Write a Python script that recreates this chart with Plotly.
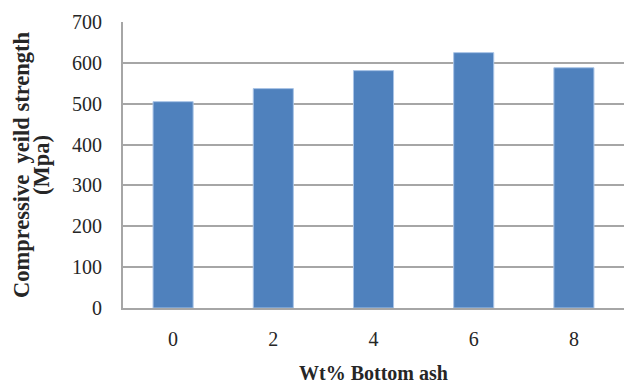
import plotly.graph_objects as go

categories = ["0", "2", "4", "6", "8"]
strength = [505, 537, 581, 625, 588]
y_ticks = [0, 100, 200, 300, 400, 500, 600, 700]

L, R, T, B = 123, 2, 22, 79
W, H = 626, 387
pw = W - L - R
ph = H - T - B

fig = go.Figure(go.Bar(
    x=categories, y=strength,
    marker=dict(color="#4f81bd", line=dict(color="#a9c4e6", width=1)),
))

font = "Liberation Serif, Times New Roman, serif"
txt = "#262626"


def px_x(px):
    return (px - L) / pw


def px_y(py):
    return (T + ph - py) / ph


fig.update_layout(
    width=W, height=H,
    margin=dict(l=L, r=R, t=T, b=B, autoexpand=False),
    plot_bgcolor="white", paper_bgcolor="white",
    bargap=0.6, showlegend=False,
    font=dict(family=font, color=txt, size=20),
    xaxis=dict(type="category", showline=True, linecolor="#a6a6a6", linewidth=2,
               showgrid=False, ticks="", ticklabelstandoff=12, automargin=False,
               tickfont=dict(size=20, family=font, color=txt)),
    yaxis=dict(range=[0, 700], tickvals=y_ticks, showline=True, linecolor="#a6a6a6", linewidth=2,
               showgrid=True, gridcolor="#a6a6a6", gridwidth=2, zeroline=False, automargin=False,
               ticks="", ticklabelstandoff=15, tickfont=dict(size=20, family=font, color=txt)),
    annotations=[
        dict(text="<b>Compressive  yeild strength</b>",
             xref="paper", yref="paper", x=px_x(21), y=0.5,
             xanchor="center", yanchor="middle", textangle=-90, showarrow=False,
             font=dict(size=22.5, family=font, color=txt)),
        dict(text="<b>(Mpa)</b>",
             xref="paper", yref="paper", x=px_x(41), y=0.5,
             xanchor="center", yanchor="middle", textangle=-90, showarrow=False,
             font=dict(size=22.5, family=font, color=txt)),
        dict(text="<b>Wt% Bottom ash</b>",
             xref="paper", yref="paper", x=0.5, y=px_y(373),
             xanchor="center", yanchor="middle", showarrow=False,
             font=dict(size=20, family=font, color=txt)),
    ],
)

fig.write_html("out.html", config={"displayModeBar": False},
               post_script="document.body.style.margin='0';")
